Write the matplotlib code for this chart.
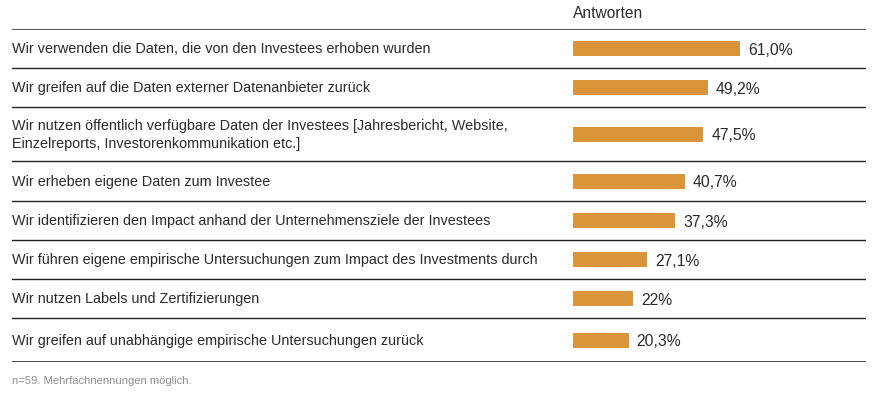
import matplotlib.pyplot as plt
import numpy as np

labels = [
    'Wir verwenden die Daten, die von den Investees erhoben wurden',
    'Wir greifen auf die Daten externer Datenanbieter zurück',
    'Wir nutzen öffentlich verfügbare Daten der Investees [Jahresbericht, Website,\nEinzelreports, Investorenkommunikation etc.]',
    'Wir erheben eigene Daten zum Investee',
    'Wir identifizieren den Impact anhand der Unternehmensziele der Investees',
    'Wir führen eigene empirische Untersuchungen zum Impact des Investments durch',
    'Wir nutzen Labels und Zertifizierungen',
    'Wir greifen auf unabhängige empirische Untersuchungen zurück',
]
values = [61.0, 49.2, 47.5, 40.7, 37.3, 27.1, 22.0, 20.3]
value_labels = ['61,0%', '49,2%', '47,5%', '40,7%', '37,3%', '27,1%', '22%', '20,3%']
header = 'Antworten'
note = 'n=59. Mehrfachnennungen möglich.'

plt.rcParams['font.family'] = ['Liberation Sans', 'DejaVu Sans']
text_color = '#2b2b2b'
bar_color = '#DA9539'

# row heights in pixels (third row holds two text lines)
row_h = np.array([39, 39, 54, 40, 39, 39, 39, 44], dtype=float)
edges = np.concatenate([[0], np.cumsum(row_h)])
centers = edges[:-1] + row_h / 2

W, H = 889, 406
fig = plt.figure(figsize=(W / 100, H / 100), dpi=100)
x0, x1, y_top, y_bot = 12, 866, 30, 363
ax = fig.add_axes([x0 / W, 1 - y_bot / H, (x1 - x0) / W, (y_bot - y_top) / H])

px_per_pct = 2.74
bar_start = 573
xmin = -(bar_start - x0) / px_per_pct
xmax = (x1 - bar_start) / px_per_pct
ax.set_xlim(xmin, xmax)
ax.set_ylim(edges[-1], 0)
ax.axis('off')

ax.barh(centers, values, height=15, color=bar_color, left=0)

for c, v, vl, lab in zip(centers, values, value_labels, labels):
    ax.text(v + 8 / px_per_pct, c + 1, vl, va='center', ha='left', fontsize=11.3, color=text_color)
    ax.text(xmin, c, lab, va='center', ha='left', fontsize=10.4, color=text_color, linespacing=1.4)

# separators
ax.axhline(0, color='#555555', lw=1.4)
for e in edges[1:-1]:
    ax.axhline(e, color='#222222', lw=1.0)
ax.axhline(edges[-1], color='#111111', lw=1.8)

fig.text(bar_start / W, 1 - 13 / H, header, ha='left', va='center', fontsize=11.2, color=text_color)
fig.text(x0 / W, 1 - 381 / H, note, ha='left', va='center', fontsize=8.1, color='#8a8f8c')

fig.savefig('out.png', dpi=100, facecolor='white')
